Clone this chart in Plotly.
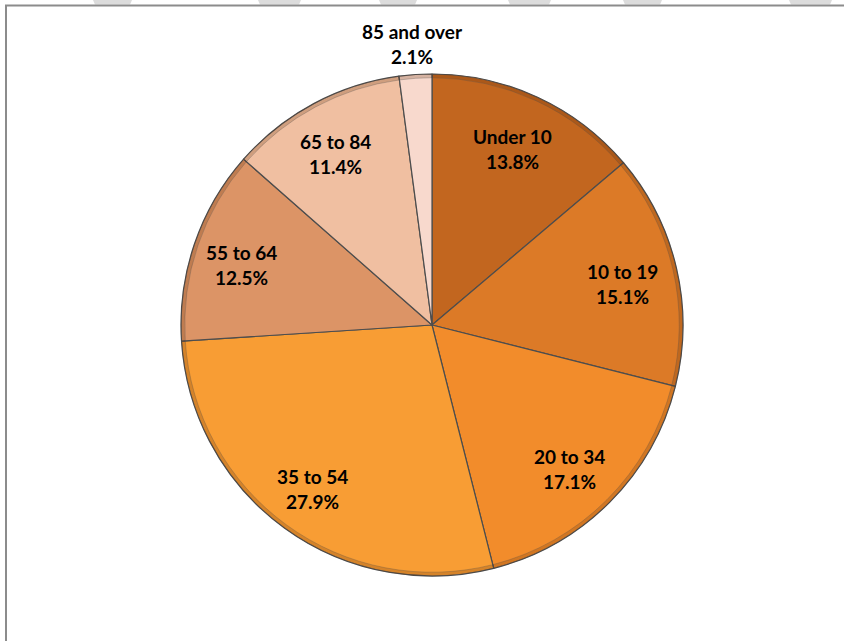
import math
import plotly.graph_objects as go

# Population share by age group
age_groups = ["Under 10", "10 to 19", "20 to 34", "35 to 54", "55 to 64", "65 to 84", "85 and over"]
shares = [13.8, 15.1, 17.1, 27.9, 12.5, 11.4, 2.1]
slice_colors = ["#c2661f", "#dc7a27", "#f28c2b", "#f89d34", "#dc9466", "#f0bfa1", "#f8d9cd"]

W, H = 844, 641
CX, CY, R = 432, 325, 251  # pie centre and radius in pixels (from top-left)

def px(x):
    return x / W

def py(y):
    return 1 - y / H

domain = dict(x=[px(CX - R), px(CX + R)], y=[py(CY + R), py(CY - R)])

fig = go.Figure()

fig.add_trace(go.Pie(
    labels=age_groups,
    values=shares,
    sort=False,
    direction="clockwise",
    rotation=0,
    domain=domain,
    marker=dict(colors=slice_colors, line=dict(color="#4d4d4d", width=1.2)),
    textinfo="none",
    hoverinfo="label+percent",
    showlegend=False,
))

# darker rim to give the slices a bevelled edge
fig.add_trace(go.Pie(
    labels=age_groups,
    values=shares,
    sort=False,
    direction="clockwise",
    rotation=0,
    domain=domain,
    hole=0.985,
    marker=dict(colors=["rgba(90,40,5,0.22)"] * len(shares), line=dict(color="rgba(77,77,77,0.5)", width=0.6)),
    textinfo="none",
    hoverinfo="skip",
    showlegend=False,
))

# slice labels placed along each slice's bisector
font = dict(family="Lato, Carlito, Calibri, sans-serif", size=19, color="#000000")
total = sum(shares)
cum = 0.0
for name, val in zip(age_groups, shares):
    mid = (cum + val / 2) / total * 2 * math.pi
    cum += val
    if val < 5:
        lx, ly = CX - 20, 44
    else:
        rr = 0.79 * R
        lx = CX + rr * math.sin(mid) - 3
        ly = CY - rr * math.cos(mid) + 4
    for txt, dy in ((name, 12.5), (f"{val:.1f}%", -12.5)):
        fig.add_annotation(x=px(lx), y=py(ly), xref="paper", yref="paper",
                           xanchor="center", yanchor="middle",
                           text=f"<b>{txt}</b>", showarrow=False, font=font, yshift=dy)

shapes = []
# frame lines along the top and left edges
shapes.append(dict(type="line", xref="paper", yref="paper", x0=px(5), x1=1, y0=py(5.5), y1=py(5.5),
                   line=dict(color="#8c8c8c", width=2)))
shapes.append(dict(type="line", xref="paper", yref="paper", x0=px(6), x1=px(6), y0=py(5), y1=0,
                   line=dict(color="#8c8c8c", width=2)))
# light grey tabs above the frame
for a, b in [(93, 132), (258, 301), (379, 417), (508, 551), (623, 662), (789, 832)]:
    path = (f"M {px(a)},{py(0)} L {px(b)},{py(0)} L {px(b - 2)},{py(4.5)} L {px(a + 2)},{py(4.5)} Z")
    shapes.append(dict(type="path", xref="paper", yref="paper", path=path,
                       fillcolor="#dcdcdc", line=dict(width=0), layer="below"))

fig.update_layout(
    width=W, height=H,
    margin=dict(l=0, r=0, t=0, b=0),
    paper_bgcolor="#ffffff",
    plot_bgcolor="#ffffff",
    shapes=shapes,
)

fig.write_html("out.html")
